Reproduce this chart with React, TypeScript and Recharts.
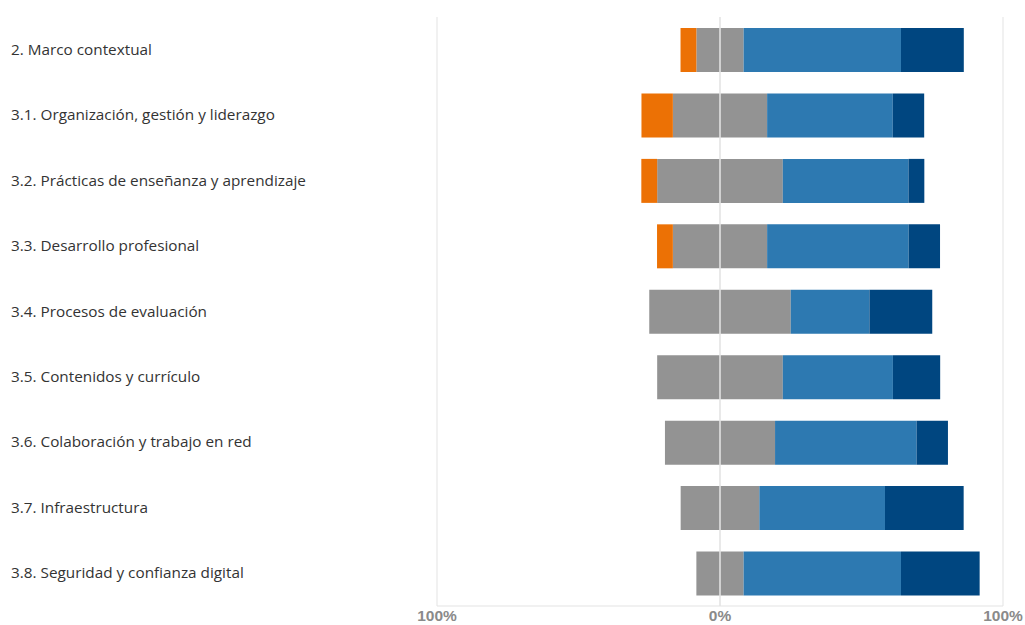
import React from "react";
import {
  BarChart,
  Bar,
  XAxis,
  YAxis,
  CartesianGrid,
  ReferenceLine,
} from "recharts";

const categories = [
  "2. Marco contextual",
  "3.1. Organización, gestión y liderazgo",
  "3.2. Prácticas de enseñanza y aprendizaje",
  "3.3. Desarrollo profesional",
  "3.4. Procesos de evaluación",
  "3.5. Contenidos y currículo",
  "3.6. Colaboración y trabajo en red",
  "3.7. Infraestructura",
  "3.8. Seguridad y confianza digital",
];

// percentages per category
const disagree = [5.6, 11.1, 5.6, 5.6, 0, 0, 0, 0, 0];
const neutral = [16.7, 33.3, 44.4, 33.3, 50, 44.4, 38.9, 27.8, 16.7];
const agree = [55.6, 44.4, 44.4, 50, 27.8, 38.9, 50, 44.4, 55.6];
const stronglyAgree = [22.2, 11.1, 5.6, 11.1, 22.2, 16.7, 11.1, 27.8, 27.8];

const xTicks = [-100, 0, 100];

// neutral is split in two halves around zero, left-side series are negative
const data = categories.map((name, i) => ({
  name,
  neutralLeft: -neutral[i] / 2,
  disagree: -disagree[i],
  neutralRight: neutral[i] / 2,
  agree: agree[i],
  stronglyAgree: stronglyAgree[i],
}));

const COLORS = {
  disagree: "#EC7105",
  neutral: "#939393",
  agree: "#2D79B1",
  stronglyAgree: "#004680",
};

const CategoryTick = ({ y, payload }: any) => (
  <text
    x={11}
    y={y}
    dy={5}
    textAnchor="start"
    fontFamily="'Open Sans', sans-serif"
    fontSize={15.3}
    fill="#333333"
  >
    {payload.value}
  </text>
);

const PercentTick = ({ x, y, payload }: any) => (
  <text
    x={x}
    y={y}
    dy={7}
    textAnchor="middle"
    fontFamily="'Liberation Sans', Arial, sans-serif"
    fontSize={15.5}
    fontWeight="bold"
    fill="#8a8a8a"
  >
    {`${Math.abs(payload.value)}%`}
  </text>
);

export default function App() {
  return (
    <div style={{ position: "absolute", left: 0, top: 0, width: 1025, height: 625, background: "#fff" }}>
      <BarChart
        width={1025}
        height={625}
        data={data}
        layout="vertical"
        stackOffset="sign"
        barSize={44}
        margin={{ top: 17, right: 22, bottom: 0, left: 0 }}
      >
        <CartesianGrid horizontal={false} stroke="#e3e3e3" />
        <XAxis
          type="number"
          domain={[-100, 100]}
          ticks={xTicks}
          tick={<PercentTick />}
          tickLine={false}
          axisLine={{ stroke: "#e3e3e3" }}
          height={19}
          interval={0}
        />
        <YAxis
          type="category"
          dataKey="name"
          width={437}
          tick={<CategoryTick />}
          tickLine={false}
          axisLine={false}
          interval={0}
        />
        <Bar dataKey="neutralLeft" stackId="s" fill={COLORS.neutral} isAnimationActive={false} />
        <Bar dataKey="disagree" stackId="s" fill={COLORS.disagree} isAnimationActive={false} />
        <Bar dataKey="neutralRight" stackId="s" fill={COLORS.neutral} isAnimationActive={false} />
        <Bar dataKey="agree" stackId="s" fill={COLORS.agree} isAnimationActive={false} />
        <Bar dataKey="stronglyAgree" stackId="s" fill={COLORS.stronglyAgree} isAnimationActive={false} />
        <ReferenceLine x={0} stroke="#e6e6e6" strokeWidth={1.5} />
      </BarChart>
    </div>
  );
}
